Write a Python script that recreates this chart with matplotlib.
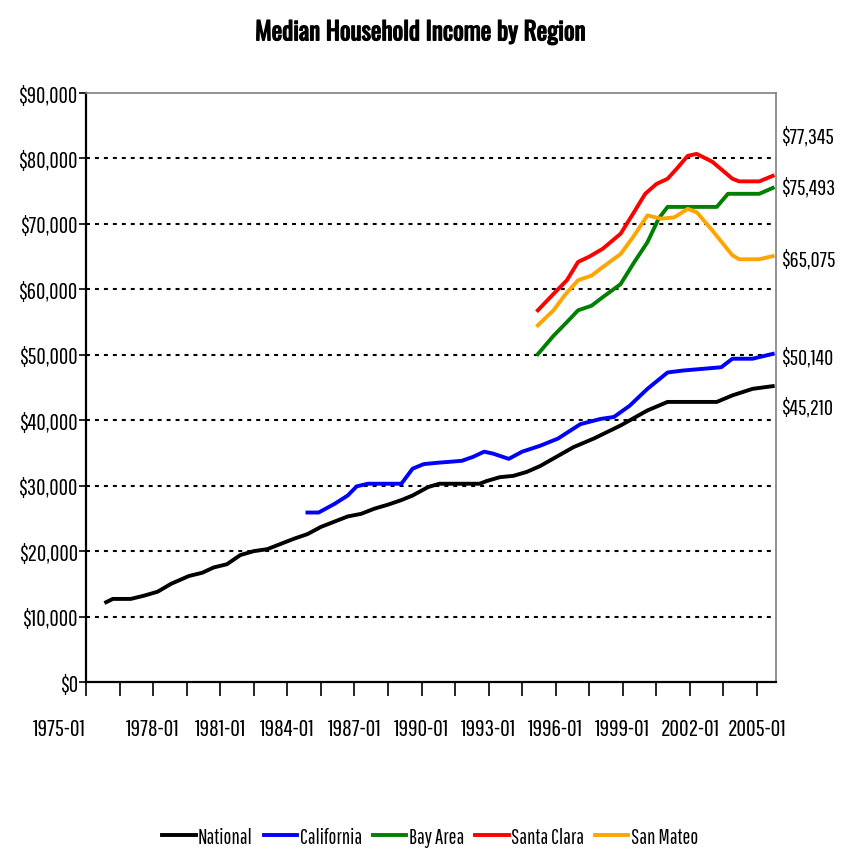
import numpy as np
import matplotlib.pyplot as plt
import matplotlib.patheffects as pe

plt.rcParams['font.family'] = ['Pathway Gothic One', 'DejaVu Sans']

# years as decimal values, incomes in dollars
national_years = [1975.9, 1976.2, 1977.0, 1977.6, 1978.2, 1978.8, 1979.6, 1980.2, 1980.7,
                  1981.3, 1981.9, 1982.5, 1983.1, 1983.7, 1984.3, 1984.9, 1985.5, 1986.1,
                  1986.7, 1987.3, 1987.9, 1988.5, 1989.1, 1989.6, 1990.3, 1990.8, 1992.6,
                  1992.9, 1993.5, 1994.1, 1994.7, 1995.3, 1996.8, 1997.7, 1998.9, 2000.1,
                  2001.0, 2003.2, 2003.9, 2004.8, 2005.7]
national = [12200, 12700, 12700, 13200, 13800, 15000, 16200, 16700, 17500,
            18000, 19400, 20000, 20300, 21100, 21900, 22600, 23700, 24500,
            25300, 25700, 26500, 27100, 27800, 28500, 29800, 30300, 30300,
            30700, 31300, 31500, 32100, 33000, 35900, 37200, 39200, 41500,
            42800, 42800, 43800, 44800, 45210]

california_years = [1984.9, 1985.4, 1986.1, 1986.7, 1987.1, 1987.6, 1989.1, 1989.6, 1990.1,
                    1990.7, 1991.8, 1992.3, 1992.8, 1993.2, 1993.9, 1994.5, 1995.3, 1996.1,
                    1997.1, 1998.0, 1998.6, 1999.3, 2000.1, 2001.0, 2001.7, 2003.4, 2003.9,
                    2004.8, 2005.7]
california = [25900, 25900, 27200, 28500, 29900, 30300, 30300, 32600, 33300,
              33500, 33800, 34400, 35200, 34900, 34100, 35200, 36100, 37200,
              39400, 40200, 40500, 42200, 44800, 47300, 47600, 48100, 49400,
              49400, 50140]

bay_years = [1995.2, 1995.9, 1996.5, 1997.0, 1997.6, 1998.1, 1998.9, 1999.5, 2000.1,
             2000.6, 2001.0, 2003.2, 2003.7, 2005.1, 2005.7]
bay_area = [50100, 52900, 55000, 56800, 57500, 58800, 60800, 64100, 67200,
            70800, 72600, 72600, 74600, 74600, 75493]

clara_years = [1995.2, 1995.9, 1996.5, 1997.0, 1997.5, 1998.1, 1998.9, 1999.5, 2000.0,
               2000.5, 2001.0, 2001.4, 2001.9, 2002.3, 2003.0, 2003.9, 2004.2, 2005.1, 2005.7]
santa_clara = [56800, 59300, 61400, 64200, 65000, 66200, 68500, 71800, 74600,
               76100, 76900, 78400, 80400, 80700, 79500, 76900, 76500, 76500, 77345]

mateo_years = [1995.2, 1995.9, 1996.4, 1997.0, 1997.6, 1998.1, 1998.9, 1999.5, 2000.1,
               2000.7, 2001.3, 2001.9, 2002.3, 2003.0, 2003.9, 2004.2, 2005.1, 2005.7]
san_mateo = [54500, 56800, 59100, 61400, 62100, 63400, 65400, 68200, 71300,
             70800, 71000, 72300, 71800, 69000, 65200, 64600, 64600, 65075]

series = [
    ('National', national_years, national, 'black', -21),
    ('California', california_years, california, '#0000ff', -3),
    ('Bay Area', bay_years, bay_area, '#008000', 1),
    ('Santa Clara', clara_years, santa_clara, '#ff0000', 40),
    ('San Mateo', mateo_years, san_mateo, '#ffa500', -3),
]

fig = plt.figure(figsize=(8.45, 8.54), dpi=100)
ax = fig.add_axes([0.1018, 0.2002, 0.8166, 0.6897])

for yv in range(10000, 90000, 10000):
    ax.axhline(yv, color='black', lw=1.5, ls=(0, (1.9, 2.4)), zorder=1)

for name, xs, ys, color, dy in series:
    ax.plot(xs, ys, color=color, lw=2.8, label=name, zorder=3)
    ax.annotate('${:,}'.format(ys[-1]), xy=(xs[-1], ys[-1]), xytext=(8, dy),
                textcoords='offset pixels', ha='left', va='center', fontsize=16,
                annotation_clip=False)

ax.set_xlim(1975.0, 2005.85)
ax.set_ylim(0, 90000)

ticks = np.arange(1975, 2005.1, 1.5)
labels = ['%d-01' % t if (t - 1975) % 3 == 0 else '' for t in ticks]
ax.set_xticks(ticks)
ax.set_xticklabels(labels, fontsize=17)
ax.tick_params(axis='x', length=10, width=1.2, pad=16)
ax.get_xticklabels()[0].set_ha('right')

ax.set_yticks(range(0, 90001, 10000))
ax.set_yticklabels(['${:,}'.format(v) for v in range(0, 90001, 10000)], fontsize=16.5)
ax.tick_params(axis='y', length=5, width=1.2, pad=1)

for side in ['left', 'bottom']:
    ax.spines[side].set_linewidth(1.6)
for side in ['top', 'right']:
    ax.spines[side].set_color('#808080')
    ax.spines[side].set_linewidth(1.2)

fig.text(0.498, 0.961, 'Median Household Income by Region', ha='center', va='center',
         fontsize=18, family='Oswald',
         path_effects=[pe.withStroke(linewidth=0.9, foreground='black')])

fig.legend(loc='center', bbox_to_anchor=(0.509, 0.019), ncol=5, frameon=False,
           fontsize=15, handlelength=1.6, handletextpad=0.1, columnspacing=0.55)

plt.savefig('out.png', dpi=100)
